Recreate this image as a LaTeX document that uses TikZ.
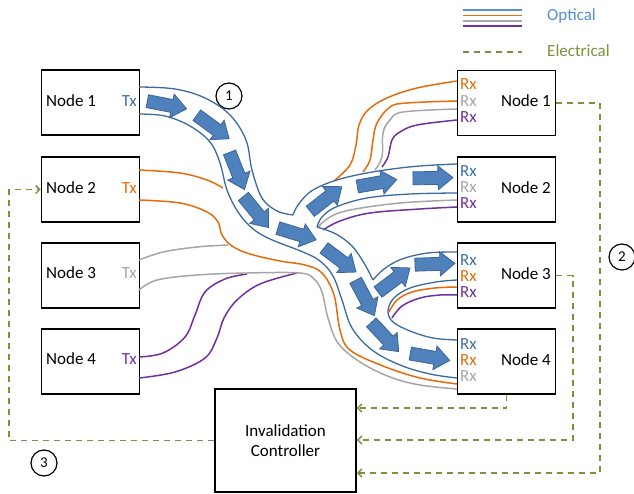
\documentclass[tikz,border=0pt]{standalone}
\usepackage{fontspec}
\setmainfont{Carlito}
\usetikzlibrary{arrows.meta}
\definecolor{obl}{HTML}{3A6A9F}
\definecolor{afill}{HTML}{4F81BD}
\definecolor{aline}{HTML}{3A6596}
\definecolor{txb}{HTML}{3C6EA8}
\definecolor{oor}{HTML}{E46C0A}
\definecolor{ogr}{HTML}{A6A6A6}
\definecolor{opu}{HTML}{7030A0}
\definecolor{egr}{HTML}{77933C}
\definecolor{lblue}{HTML}{558ED5}
\begin{document}
\begin{tikzpicture}[x=1pt,y=-1pt,font=\fontsize{17}{20}\selectfont,
  box/.style={draw=black,line width=1.5pt,minimum width=98pt,minimum height=65pt,inner sep=0pt},
  lbl/.style={inner sep=0pt},
  tube/.style={draw=obl,line width=1.3pt},
  oline/.style={line width=1.5pt},
  elec/.style={draw=egr,line width=1.5pt,dash pattern=on 6pt off 5pt},
  etip/.style={-{Straight Barb[length=4pt,width=8pt]}},
  num/.style={circle,draw=black,line width=1.2pt,minimum size=26pt,inner sep=0pt,font=\fontsize{15}{17}\selectfont},
  barr/.pic={\draw[fill=afill,draw=aline,line width=0.8pt] (-20,-6.5) -- (5,-6.5) -- (5,-12) -- (20,0) -- (5,12) -- (5,6.5) -- (-20,6.5) -- cycle;}]
\useasboundingbox (0,0) rectangle (634,494);

% boxes
\node[box] (L1) at (90.5,102.5) {};
\node[box] (L2) at (90.5,189.5) {};
\node[box] (L3) at (90.5,275.5) {};
\node[box] (L4) at (90.5,361.5) {};
\node[box] (R1) at (506.5,103) {};
\node[box] (R2) at (506.5,189.5) {};
\node[box] (R3) at (506.5,275.5) {};
\node[box] (R4) at (506.5,361.5) {};
\node[draw=black,line width=1.5pt,minimum width=141pt,minimum height=103pt,align=center] (C) at (285.5,440.5) {Invalidation\\Controller};

% left texts
\node[lbl,anchor=west] (l1t) at (46,101) {Node 1};
\node[lbl,anchor=west] (l2t) at (46,188) {Node 2};
\node[lbl,anchor=west] (l3t) at (46,273) {Node 3};
\node[lbl,anchor=west] (l4t) at (46,359) {Node 4};
\node[lbl,anchor=east,text=txb] (tx1) at (137,101) {Tx};
\node[lbl,anchor=east,text=oor] (tx2) at (137,188) {Tx};
\node[lbl,anchor=east,text=ogr] (tx3) at (137,273) {Tx};
\node[lbl,anchor=east,text=opu] (tx4) at (137,359) {Tx};

% right texts
\node[lbl,anchor=east] (r1t) at (551,101) {Node 1};
\node[lbl,anchor=east] (r2t) at (551,188) {Node 2};
\node[lbl,anchor=east] (r3t) at (551,274) {Node 3};
\node[lbl,anchor=east] (r4t) at (551,360) {Node 4};
\node[lbl,anchor=west,text=oor] (rx11) at (460,84) {Rx};
\node[lbl,anchor=west,text=ogr] (rx12) at (460,101) {Rx};
\node[lbl,anchor=west,text=opu] (rx13) at (460,117) {Rx};
\node[lbl,anchor=west,text=txb] (rx21) at (460,171) {Rx};
\node[lbl,anchor=west,text=ogr] (rx22) at (460,187) {Rx};
\node[lbl,anchor=west,text=opu] (rx23) at (460,203) {Rx};
\node[lbl,anchor=west,text=txb] (rx31) at (460,260) {Rx};
\node[lbl,anchor=west,text=oor] (rx32) at (460,276) {Rx};
\node[lbl,anchor=west,text=opu] (rx33) at (460,292) {Rx};
\node[lbl,anchor=west,text=txb] (rx41) at (460,344) {Rx};
\node[lbl,anchor=west,text=oor] (rx42) at (460,360) {Rx};
\node[lbl,anchor=west,text=ogr] (rx43) at (460,376) {Rx};

% numbered circles
\node[num] (n1) at (229,96) {1};
\node[num] (n2) at (622,257) {2};
\node[num] (n3) at (44,463) {3};

% legend
\coordinate (lg1) at (463,10);
\coordinate (lg2) at (522,10);
\coordinate (lg3) at (463,15.5);
\coordinate (lg4) at (522,15.5);
\coordinate (lg5) at (463,21);
\coordinate (lg6) at (522,21);
\coordinate (lg7) at (463,26);
\coordinate (lg8) at (522,26);
\draw[oline,draw=lblue] (lg1) -- (lg2);
\draw[oline,draw=oor] (lg3) -- (lg4);
\draw[oline,draw=ogr] (lg5) -- (lg6);
\draw[oline,draw=opu] (lg7) -- (lg8);
\node[lbl,anchor=west,text=lblue] (lgo) at (547,16) {Optical};
\coordinate (le1) at (463,52);
\coordinate (le2) at (522,52);
\draw[elec] (le1) -- (le2);
\node[lbl,anchor=west,text=egr] (lge) at (547,51) {Electrical};

% electrical connections
\coordinate (e1) at (600,473);
\coordinate (e2) at (573,440);
\coordinate (e3) at (506.5,408);
\coordinate (e4) at (9,440.5);
\draw[elec,etip] (R1.east) -| (e1) -- (C.east |- e1);
\draw[elec,etip] (R3.east) -| (e2) -- (C.east |- e2);
\draw[elec,etip] (R4.south) -- (e3) -- (C.east |- e3);
\draw[elec,etip] (C.west) -- (e4) |- (L2.west);

% optical: purple
\draw[oline,opu] plot[smooth,tension=0.6] coordinates {(139,357) (163,353) (185,337) (195,315) (205,292) (225,279) (247,274)};
\draw[oline,opu] plot[smooth,tension=0.6] coordinates {(139,378) (175,372) (205,358) (217,338) (224,318) (237,300) (260,284) (297,273)};
\draw[oline,opu] plot[smooth,tension=0.6] coordinates {(382,167) (388,157) (392,140) (400,132) (417,125) (457,120)};
\draw[oline,opu] plot[smooth,tension=0.6] coordinates {(323,230) (340,221) (370,213) (420,209) (457,207)};
\draw[oline,opu] plot[smooth,tension=0.6] coordinates {(392,318) (402,306) (420,298) (440,295) (457,295)};
% gray
\draw[oline,ogr] plot[smooth,tension=0.6] coordinates {(139,260) (163,252) (197,247) (228,245)};
\draw[oline,ogr] plot[smooth,tension=0.6] coordinates {(139,290) (157,280) (197,275) (247,273) (300,273) (314,279) (322,292) (328,318) (338,343) (360,362) (390,377) (420,385) (457,389)};
\draw[oline,ogr] plot[smooth,tension=0.6] coordinates {(375,170) (382,157) (383,133) (390,120) (403,112) (457,109)};
\draw[oline,ogr] plot[smooth,tension=0.6] coordinates {(318,227) (330,217) (350,210) (400,203) (457,200)};
% orange
\draw[oline,oor] plot[smooth,tension=0.6] coordinates {(139,170) (180,173) (207,180) (223,188)};
\draw[oline,oor] plot[smooth,tension=0.6] coordinates {(139,200) (180,203) (207,212) (218,222) (222,235) (232,246) (250,254) (280,261) (305,265) (322,273) (334,295) (340,330) (350,350) (383,366) (420,378) (457,384)};
\draw[oline,oor] plot[smooth,tension=0.6] coordinates {(334,181) (350,165) (356,145) (359,125) (368,110) (387,98) (417,88) (457,81)};
\draw[oline,oor] plot[smooth,tension=0.6] coordinates {(363,172) (370,160) (373,140) (377,123) (390,107) (407,103) (457,101)};
\draw[oline,oor] plot[smooth,tension=0.6] coordinates {(389,312) (397,300) (412,292) (435,288) (457,287)};

% blue tube
\draw[tube] plot[smooth,tension=0.6] coordinates {(139,87) (175,89) (205,98) (230,115) (246,140) (252,170) (262,198) (277,211) (293,215)};
\draw[tube] plot[smooth,tension=0.6] coordinates {(293,215) (298,205) (310,192) (328,183) (352,176) (385,170) (420,166) (457,164)};
\draw[tube] plot[smooth,tension=0.6] coordinates {(457,193) (410,194) (367,198) (336,207) (322,217) (317,227)};
\draw[tube] plot[smooth,tension=0.6] coordinates {(317,227) (336,234) (352,246) (364,263) (373,280)};
\draw[tube] plot[smooth,tension=0.6] coordinates {(373,280) (384,269) (402,259) (428,253) (457,252)};
\draw[tube] plot[smooth,tension=0.6] coordinates {(457,280) (436,282) (410,288) (394,298) (388,311) (393,322) (410,331) (433,338) (457,340)};
\draw[tube] plot[smooth,tension=0.6] coordinates {(139,114) (165,116) (190,126) (210,142) (220,163) (227,190) (238,212) (252,228) (270,239) (303,252) (320,261) (333,276) (342,300) (352,328) (372,350) (400,365) (430,374) (457,378)};

% block arrows
\pic[rotate=-11] at (167,105) {barr};
\pic[rotate=-36] at (213,127) {barr};
\pic[rotate=-68] at (237,171) {barr};
\pic[rotate=-51] at (256,212) {barr};
\pic[rotate=-17] at (297,234) {barr};
\pic[rotate=38] at (326,199) {barr};
\pic[rotate=10] at (377,183) {barr};
\pic[rotate=1] at (433,178) {barr};
\pic[rotate=-37] at (340,260) {barr};
\pic[rotate=-62] at (365,298) {barr};
\pic[rotate=37] at (394,280) {barr};
\pic[rotate=2] at (435,264) {barr};
\pic[rotate=-47] at (385,337) {barr};
\pic[rotate=-10] at (430,357) {barr};
\end{tikzpicture}
\end{document}
